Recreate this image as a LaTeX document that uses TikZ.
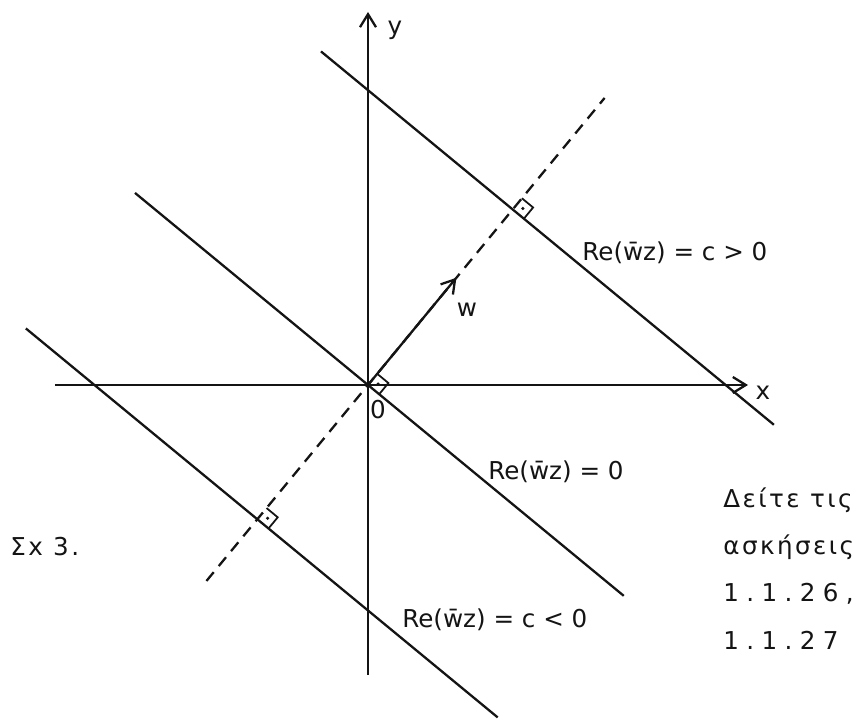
\documentclass[tikz,border=0pt]{standalone}
\usepackage{fontspec}
\setmainfont{DejaVu Sans}
\newfontfamily\notefont{DejaVu Sans}[LetterSpace=10]
\newfontfamily\numfont{DejaVu Sans}[LetterSpace=30]
\usepackage{tikz}
\usetikzlibrary{arrows.meta}
\definecolor{SkInk}{HTML}{141414}
\definecolor{SkPaper}{HTML}{FFFFFF}

\begin{document}
\begin{tikzpicture}[x=1cm,y=1cm,
  ink/.style={SkInk,line width=1.3pt},
  axis/.style={ink,-{Straight Barb[length=2.6mm,width=3.2mm,line width=1.3pt]}},
  normal/.style={ink,dash pattern=on 6.5pt off 4.5pt},
  lbl/.style={SkInk,font=\fontsize{14}{16}\selectfont,inner sep=0pt}]
\path[use as bounding box] (-7.36,-6.74) rectangle (9.96,7.70);
\fill[SkPaper] (-7.36,-6.74) rectangle (9.96,7.70);
% axes
\coordinate (O) at (0,0);
\coordinate (xl) at (-6.26,0);
\coordinate (xr) at (7.60,0);
\coordinate (yb) at (0,-5.80);
\coordinate (yt) at (0,7.46);
\draw[axis] (xl) -- (xr);
\draw[axis] (yb) -- (yt);
\node[lbl] (xlab) at (7.90,-0.16) {x};
\node[lbl] (ylab) at (0.54,7.10) {y};
\node[lbl] (olab) at (0.20,-0.50) {0};
% feet of the normal on the two outer lines
\coordinate (Fa) at (50.5:4.55);
\coordinate (Fb) at (230.5:3.48);
\coordinate (Ne) at (50.5:7.44);
\coordinate (Ns) at (230.5:5.08);
\coordinate (W) at (50.5:2.78);
% the three parallel lines
\draw[ink] ([shift={(140.5:4.97)}]Fa) -- ([shift={(-39.5:6.77)}]Fa);
\draw[ink] ([shift={(140.5:6.04)}]O) -- ([shift={(-39.5:6.63)}]O);
\draw[ink] ([shift={(140.5:6.00)}]Fb) -- ([shift={(-39.5:6.23)}]Fb);
% normal and w
\draw[normal] (Ns) -- (Ne);
\draw[axis] (O) -- (W);
\node[lbl] (wlab) at (1.98,1.50) {w};
% right angles
\foreach \f in {O,Fa,Fb} {
  \draw[SkInk,line width=1pt] ([shift={(50.5:0.29)}]\f) -- ([shift={(5.5:0.41)}]\f) -- ([shift={(-39.5:0.29)}]\f);
  \fill[SkInk] ([shift={(5.5:0.205)}]\f) circle (.035);
}
% labels
\node[lbl,anchor=west] (cpos) at (4.28,2.64) {Re(\={w}z) = c > 0};
\node[lbl,anchor=west] (czero) at (2.40,-1.74) {Re(\={w}z) = 0};
\node[lbl,anchor=west] (cneg) at (0.68,-4.70) {Re(\={w}z) = c < 0};
\node[lbl,anchor=west] (ex) at (-7.16,-3.24) {\notefont Σx 3.};
\node[lbl,anchor=west] (see1) at (7.10,-2.30) {\notefont Δείτε τις};
\node[lbl,anchor=west] (see2) at (7.10,-3.24) {\notefont ασκήσεις};
\node[lbl,anchor=west] (see3) at (7.10,-4.18) {\numfont 1.1.26,};
\node[lbl,anchor=west] (see4) at (7.10,-5.10) {\numfont 1.1.27};
\end{tikzpicture}
\end{document}
